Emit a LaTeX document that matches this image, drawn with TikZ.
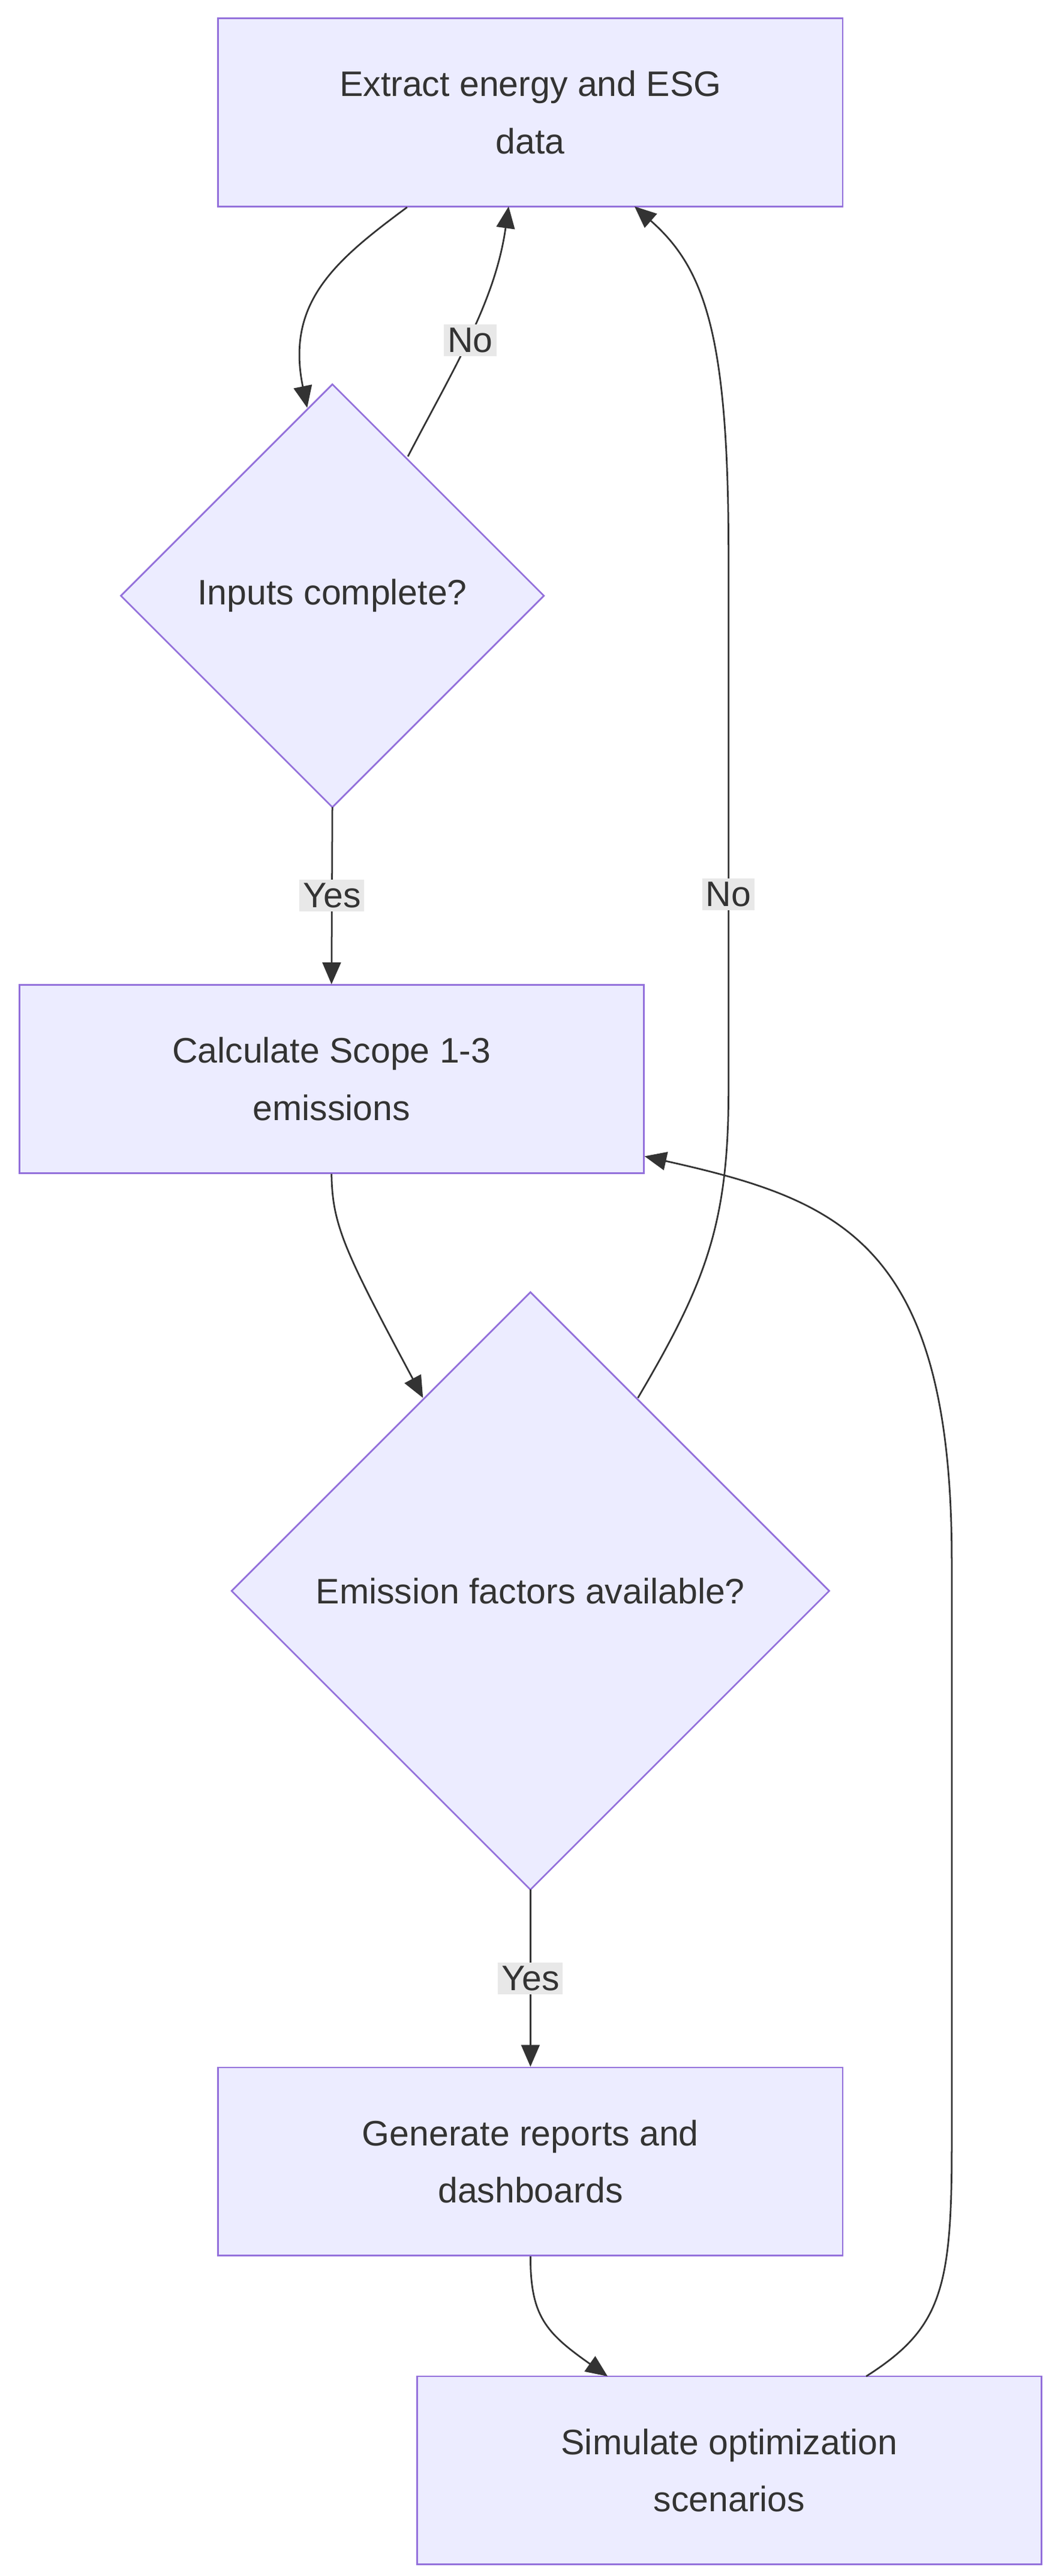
\documentclass[tikz,border=0pt]{standalone}
\usepackage{fontspec}
\setmainfont{Liberation Sans}
\usetikzlibrary{arrows.meta}
\definecolor{nfill}{HTML}{ECECFF}
\definecolor{nline}{HTML}{9370DB}
\definecolor{eline}{HTML}{333333}
\definecolor{lbg}{HTML}{E8E8E8}
\begin{document}
\begin{tikzpicture}[x=0.1cm,y=-0.1cm,
  box/.style={draw=nline,fill=nfill,line width=2.8pt,minimum width=37.2cm,minimum height=11.2cm,align=center,text=eline,font=\fontsize{60}{97}\selectfont,inner sep=0pt},
  dtext/.style={text=eline,font=\fontsize{60}{97}\selectfont,inner sep=0pt},
  dia/.style={draw=nline,fill=nfill,line width=2.8pt},
  edge/.style={draw=eline,line width=2.8pt,-{Triangle[length=1.3cm,width=1.1cm]}},
  lab/.style={fill=lbg,text=eline,font=\fontsize{60}{72}\selectfont,inner sep=6pt}]
\useasboundingbox (0,0) rectangle (630,1535);
\node[box] (A) at (316,67) {Extract energy and ESG\\data};
\node[box] (B) at (197.5,643) {Calculate Scope 1-3\\emissions};
\node[box] (C) at (316,1288) {Generate reports and\\dashboards};
\node[box] (E) at (434.5,1472) {Simulate optimization\\scenarios};
\draw[dia] (198,229) -- (324,355) -- (198,481) -- (72,355) -- cycle;
\node[dtext] (D1) at (198,355) {Inputs complete?};
\draw[dia] (316,770) -- (494,948) -- (316,1126) -- (138,948) -- cycle;
\node[dtext] (D2) at (316,948) {Emission factors available?};
\coordinate (d1t) at (198,229); \coordinate (d1b) at (198,481);
\coordinate (d2t) at (316,770); \coordinate (d2b) at (316,1126);
% edges
\draw[edge] (A.south west) ++(113,0) .. controls (200,155) and (170,180) .. (183,243);
\draw[edge] (243,272) .. controls (270,220) and (295,180) .. (303,123) node[pos=0.5,lab,yshift=-10] {No};
\draw[edge] (d1b) -- (B.north) node[midway,lab] {Yes};
\draw[edge] (B.south) .. controls (198,730) and (205,745) .. (252,833);
\draw[edge] (380,833) .. controls (420,765) and (434,730) .. (434,650) -- (434,330) .. controls (434,200) and (420,160) .. (378,123);
\node[lab] at (434,533) {No};
\draw[edge] (d2b) -- (C.north) node[midway,lab] {Yes};
\draw[edge] (C.south) .. controls (316,1380) and (325,1390) .. (362,1416);
\draw[edge] (516,1416) .. controls (560,1388) and (567,1365) .. (567,1280) -- (567,930) .. controls (567,740) and (500,715) .. (384,689);
\end{tikzpicture}
\end{document}
